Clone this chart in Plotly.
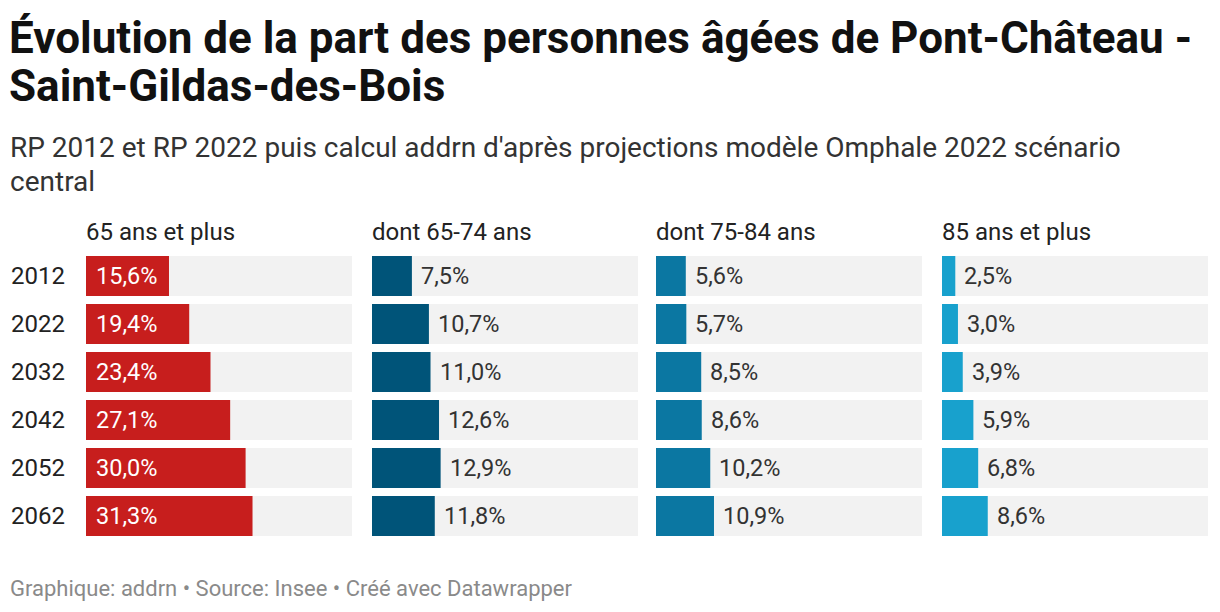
import plotly.graph_objects as go

years = ["2012", "2022", "2032", "2042", "2052", "2062"]
panels = ["65 ans et plus", "dont 65-74 ans", "dont 75-84 ans", "85 ans et plus"]
v65plus = [15.6, 19.4, 23.4, 27.1, 30.0, 31.3]
v6574 = [7.5, 10.7, 11.0, 12.6, 12.9, 11.8]
v7584 = [5.6, 5.7, 8.5, 8.6, 10.2, 10.9]
v85plus = [2.5, 3.0, 3.9, 5.9, 6.8, 8.6]
series = [v65plus, v6574, v7584, v85plus]
colors = ["#c71e1d", "#005479", "#0b77a2", "#18a1cd"]

W, H = 1220, 612
XMAX = 50
panel_left = [86, 372, 656, 942]
panel_w = 266
y_top, y_bot = 252, 540
rows = list(range(len(years)))

def px(x):
    return x / W

def py(y):
    return 1 - y / H

fig = go.Figure()
annotations = []
layout_axes = {}
for i, vals in enumerate(series):
    n = i + 1
    sfx = "" if n == 1 else str(n)
    xa, ya = "x" + sfx, "y" + sfx
    fig.add_trace(go.Bar(
        y=rows, x=[XMAX] * len(years), orientation="h",
        marker=dict(color="#f2f2f2", line=dict(width=0)),
        width=0.833, xaxis=xa, yaxis=ya, hoverinfo="skip", showlegend=False))
    fig.add_trace(go.Bar(
        y=rows, x=vals, orientation="h",
        marker=dict(color=colors[i], line=dict(width=0)),
        width=0.833, xaxis=xa, yaxis=ya, showlegend=False))
    for r, v in zip(rows, vals):
        label = f"{v:.1f}".replace(".", ",") + "%"
        if i == 0:
            annotations.append(dict(x=0, y=r, xref=xa, yref=ya, text=label,
                                    xanchor="left", yanchor="middle", xshift=8, showarrow=False,
                                    font=dict(family="Roboto", size=23.5, color="#ffffff")))
        else:
            annotations.append(dict(x=v, y=r, xref=xa, yref=ya, text=label,
                                    xanchor="left", yanchor="middle", xshift=7, showarrow=False,
                                    font=dict(family="Roboto", size=23.5, color="#333333")))
    annotations.append(dict(x=px(panel_left[i] - 2), y=py(232), xref="paper", yref="paper",
                            text=panels[i], xanchor="left", yanchor="middle", showarrow=False,
                            font=dict(family="Roboto", size=24, color="#222222")))
    layout_axes["xaxis" + sfx] = dict(
        domain=[px(panel_left[i]), px(panel_left[i] + panel_w)], range=[0, XMAX],
        visible=False, fixedrange=True, anchor=ya)
    layout_axes["yaxis" + sfx] = dict(
        domain=[py(y_bot), py(y_top)], range=[len(years) - 0.5, -0.5],
        visible=False, fixedrange=True, anchor=xa)

for r, yr in zip(rows, years):
    annotations.append(dict(x=px(9), y=r, xref="paper", yref="y", text=yr,
                            xanchor="left", yanchor="middle", showarrow=False,
                            font=dict(family="Roboto", size=24, color="#222222")))

annotations += [
    dict(x=px(7), y=py(38), xref="paper", yref="paper", xanchor="left", yanchor="middle",
         text="<b>Évolution de la part des personnes âgées de Pont-Château -</b>",
         showarrow=False, font=dict(family="Roboto", size=44, color="#111111")),
    dict(x=px(7), y=py(86), xref="paper", yref="paper", xanchor="left", yanchor="middle",
         text="<b>Saint-Gildas-des-Bois</b>",
         showarrow=False, font=dict(family="Roboto", size=44, color="#111111")),
    dict(x=px(8), y=py(147), xref="paper", yref="paper", xanchor="left", yanchor="middle",
         text="RP 2012 et RP 2022 puis calcul addrn d'après projections modèle Omphale 2022 scénario",
         showarrow=False, font=dict(family="Roboto", size=28, color="#333333")),
    dict(x=px(8), y=py(181), xref="paper", yref="paper", xanchor="left", yanchor="middle",
         text="central",
         showarrow=False, font=dict(family="Roboto", size=28, color="#333333")),
    dict(x=px(8), y=py(588), xref="paper", yref="paper", xanchor="left", yanchor="middle",
         text="Graphique: addrn • Source: Insee • Créé avec Datawrapper",
         showarrow=False, font=dict(family="Roboto", size=22, color="#8a8a8a")),
]

fig.update_layout(
    width=W, height=H, margin=dict(l=0, r=0, t=0, b=0),
    paper_bgcolor="white", plot_bgcolor="rgba(0,0,0,0)",
    barmode="overlay", annotations=annotations, showlegend=False,
    **layout_axes,
)
fig.write_html("out.html", config={"displayModeBar": False},
               post_script="document.body.style.margin='0';")
